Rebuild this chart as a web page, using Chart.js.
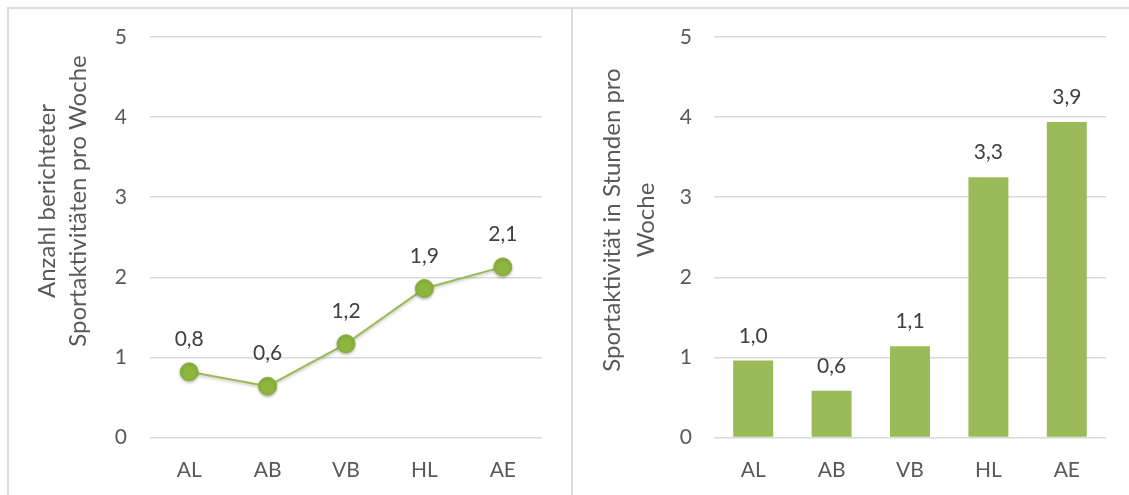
<!DOCTYPE html>
<html>
<head>
<meta charset="utf-8">
<script src="https://cdn.jsdelivr.net/npm/chart.js@4.4.0/dist/chart.umd.min.js"></script>
<style>
    html, body {
        margin: 0;
        padding: 0;
        background: #ffffff;
        overflow: hidden;
    }
    body {
        width: 1129px;
        height: 495px;
        position: relative;
    }
    .frame {
        position: absolute;
        left: 7px;
        top: 7px;
        width: 1200px;
        height: 600px;
        border-top: 2px solid #dcdcdc;
        border-left: 2px solid #dcdcdc;
    }
    .divider {
        position: absolute;
        left: 571px;
        top: 8px;
        width: 2px;
        height: 500px;
        background: #dcdcdc;
    }
    .panel {
        position: absolute;
        top: 0;
        height: 495px;
    }
    #leftPanel { left: 0; width: 570px; }
    #rightPanel { left: 572px; width: 557px; }
</style>
</head>
<body>
<div class="frame"></div>
<div class="divider"></div>
<div class="panel" id="leftPanel"><canvas id="lineChart"></canvas></div>
<div class="panel" id="rightPanel"><canvas id="barChart"></canvas></div>

<script>
// Data
const categories = ['AL', 'AB', 'VB', 'HL', 'AE'];
const activitiesPerWeek = [0.82, 0.64, 1.17, 1.86, 2.13];
const hoursPerWeek = [0.96, 0.585, 1.14, 3.25, 3.94];
const yTicks = [0, 1, 2, 3, 4, 5];
const leftTitle = ['Anzahl berichteter', 'Sportaktivitäten pro Woche'];
const rightTitle = ['Sportaktivität in Stunden pro', 'Woche'];

const green = '#9bbb59';
const gridColor = '#d9d9d9';
const tickColor = '#595959';
const labelColor = '#404040';
const fontFamily = 'Lato, "Open Sans", sans-serif';

Chart.defaults.font.family = fontFamily;
Chart.defaults.font.size = 21;
Chart.defaults.color = tickColor;

function formatValue(v) {
    return v.toFixed(1).replace('.', ',');
}

// value labels above each point / bar
const valueLabels = {
    id: 'valueLabels',
    afterDatasetsDraw(chart, args, opts) {
        const ctx = chart.ctx;
        const meta = chart.getDatasetMeta(0);
        const values = chart.data.datasets[0].data;
        ctx.save();
        ctx.font = '21px ' + fontFamily;
        ctx.fillStyle = labelColor;
        ctx.textAlign = 'center';
        ctx.textBaseline = 'alphabetic';
        meta.data.forEach((el, i) => {
            ctx.fillText(formatValue(values[i]), el.x, el.y - opts.offset);
        });
        ctx.restore();
    }
};

// rotated two-line axis title, placed like the original
const axisTitle = {
    id: 'axisTitle',
    afterDraw(chart, args, opts) {
        const ctx = chart.ctx;
        ctx.save();
        ctx.font = '24px ' + fontFamily;
        ctx.fillStyle = tickColor;
        ctx.textAlign = 'center';
        ctx.textBaseline = 'alphabetic';
        opts.lines.forEach((line, i) => {
            ctx.save();
            ctx.translate(opts.baselines[i], opts.centerY);
            ctx.rotate(-Math.PI / 2);
            ctx.fillText(line, 0, 0);
            ctx.restore();
        });
        ctx.restore();
    }
};

// soft shadow under the markers
const markerShadow = {
    id: 'markerShadow',
    beforeDatasetsDraw(chart) {
        const ctx = chart.ctx;
        ctx.save();
        ctx.shadowColor = 'rgba(0, 0, 0, 0.25)';
        ctx.shadowBlur = 3;
        ctx.shadowOffsetY = 1.5;
    },
    afterDatasetsDraw(chart) {
        chart.ctx.restore();
    }
};

function yScale(width, padding) {
    return {
        min: 0,
        max: 5,
        afterBuildTicks: scale => {
            scale.ticks = yTicks.map(v => ({ value: v }));
        },
        afterFit: scale => {
            scale.width = width;
        },
        border: { display: false },
        grid: {
            color: gridColor,
            lineWidth: 1.5,
            drawTicks: false
        },
        ticks: {
            padding: padding,
            color: tickColor,
            font: { size: 21 }
        }
    };
}

function xScale() {
    return {
        offset: true,
        afterFit: scale => {
            scale.height = 57.5;
        },
        border: { display: false },
        grid: { display: false, drawTicks: false },
        ticks: {
            padding: 20,
            color: tickColor,
            font: { size: 21 }
        }
    };
}

function initLineChart() {
    const ctx = document.getElementById('lineChart').getContext('2d');
    new Chart(ctx, {
        type: 'line',
        data: {
            labels: categories,
            datasets: [{
                data: activitiesPerWeek,
                borderColor: green,
                borderWidth: 2,
                pointRadius: 9,
                pointBackgroundColor: '#8db63f',
                pointBorderColor: '#88b03a',
                pointBorderWidth: 1,
                tension: 0
            }]
        },
        options: {
            responsive: true,
            maintainAspectRatio: false,
            animation: false,
            events: [],
            layout: { padding: { top: 37, right: 28, bottom: 0, left: 0 } },
            plugins: {
                legend: { display: false },
                tooltip: { enabled: false },
                valueLabels: { offset: 26 },
                axisTitle: { lines: leftTitle, baselines: [55, 86], centerY: 201 }
            },
            scales: {
                x: xScale(),
                y: yScale(150, 23)
            }
        },
        plugins: [markerShadow, valueLabels, axisTitle]
    });
}

function initBarChart() {
    const ctx = document.getElementById('barChart').getContext('2d');
    new Chart(ctx, {
        type: 'bar',
        data: {
            labels: categories,
            datasets: [{
                data: hoursPerWeek,
                backgroundColor: green,
                borderWidth: 0,
                categoryPercentage: 1,
                barPercentage: 0.51
            }]
        },
        options: {
            responsive: true,
            maintainAspectRatio: false,
            animation: false,
            events: [],
            layout: { padding: { top: 37, right: 23, bottom: 0, left: 0 } },
            plugins: {
                legend: { display: false },
                tooltip: { enabled: false },
                valueLabels: { offset: 18 },
                axisTitle: { lines: rightTitle, baselines: [48, 82], centerY: 220 }
            },
            scales: {
                x: xScale(),
                y: yScale(142, 22)
            }
        },
        plugins: [valueLabels, axisTitle]
    });
}

document.addEventListener('DOMContentLoaded', function() {
    initLineChart();
    initBarChart();
});
</script>
</body>
</html>
